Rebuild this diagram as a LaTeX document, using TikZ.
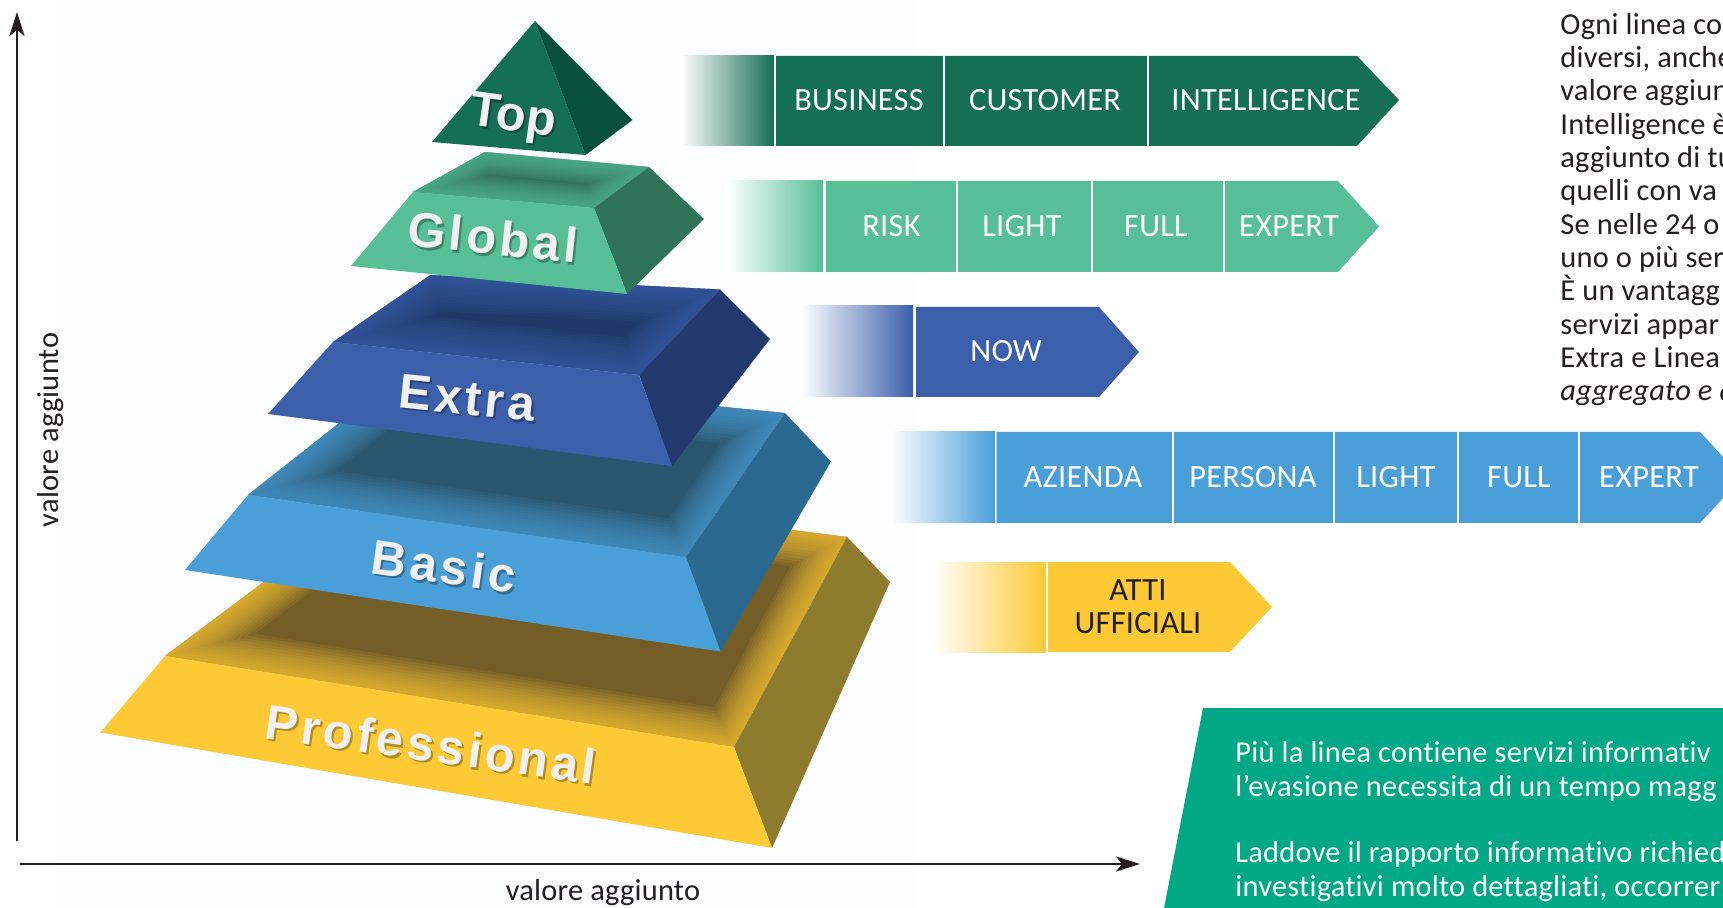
\documentclass[tikz,border=0pt]{standalone}
\usepackage{fontspec}
\setmainfont[Ligatures=NoCommon,LetterSpace=0.8]{Carlito}
\newfontfamily\labfont[LetterSpace=7.2]{Liberation Sans}
\newfontfamily\labtopfont{Liberation Sans}
\usetikzlibrary{arrows.meta}
\definecolor{ink}{HTML}{231F20}
\definecolor{pagetint}{HTML}{FCFDFE}
\definecolor{topf}{HTML}{156F52}\definecolor{topr}{HTML}{07503A}
\definecolor{glof}{HTML}{57BF98}\definecolor{glor}{HTML}{30735B}\definecolor{glot}{HTML}{2F6B55}
\definecolor{extf}{HTML}{3C5FAB}\definecolor{extr}{HTML}{223A6E}\definecolor{extt}{HTML}{1F3A68}
\definecolor{basf}{HTML}{4B9FD8}\definecolor{basr}{HTML}{2A6A90}\definecolor{bast}{HTML}{2A566F}
\definecolor{prof}{HTML}{FDC935}\definecolor{pror}{HTML}{8D7B2E}\definecolor{prot}{HTML}{745E27}
\definecolor{callout}{HTML}{00A885}
\tikzset{
  bodytext/.style={font=\fontsize{15.2}{16.6}\selectfont,text=ink,anchor=base west,inner sep=0pt},
  boxtext/.style={font=\fontsize{16.2}{16.6}\selectfont,text=white,inner sep=0pt,anchor=center},
  calltext/.style={font=\fontsize{15.2}{16.6}\selectfont,text=white,anchor=base west,inner sep=0pt},
  axislabel/.style={font=\fontsize{15.2}{16.6}\selectfont,text=ink,inner sep=0pt},
  axisline/.style={draw=ink,line width=1.3pt,-{Stealth[length=12pt,width=7.5pt,inset=3pt]}},
  sep/.style={draw=white,line width=1pt},
}
\newcommand{\levellabel}[5]{% name, x, y, angle, font
  \node[rotate=#4,font=#5,text=black,opacity=.3,inner sep=0pt] at (#2+2,#3+2.5) {\labelword};
  \node[rotate=#4,font=#5,text=white!94!black,inner sep=0pt] (#1) at (#2,#3) {\labelword};
}
\newcommand{\softface}[7]{% dark, front, ul, back, rb, ur, widths
  \begin{scope}
    \clip #3 -- #4 -- #5 -- #6 -- cycle;
    \fill[#1] #3 -- #4 -- #5 -- #6 -- cycle;
    \foreach \w in {#7}{
      \draw[#2,opacity=.1,line width=\w pt,line join=round] #3 -- #4 -- #5 -- #6 -- cycle;
    }
  \end{scope}
}
\begin{document}
\begin{tikzpicture}[x=0.5pt,y=-0.5pt]
\useasboundingbox (0,0) rectangle (1723,908);
\begin{scope}
\clip (0,0) rectangle (1723,908);
\fill[white] (0,0) rectangle (1723,908);
\fill[pagetint] (62,0) rectangle (915,908);

% Professional
\softface{prot}{prof}{(165,656)}{(400,480)}{(847,537)}{(734,747)}{3,6,...,36}
\fill[pror] (734,747) -- (847,537) -- (890,582) -- (772,848) -- cycle;
\fill[prof] (100.5,732.5) -- (165,656) -- (734,747) -- (772,848) -- cycle;
% Basic
\softface{bast}{basf}{(248,495)}{(400,375)}{(785,413)}{(686,557)}{3,6,...,36}
\fill[basr] (686,557) -- (785,413) -- (831,461.5) -- (720.5,651.5) -- cycle;
\fill[basf] (185,570) -- (248,495) -- (686,557) -- (720.5,651.5) -- cycle;
% Extra
\softface{extt}{extf}{(333,342)}{(430.5,275)}{(720,289.5)}{(639,375)}{3,6,...,36}
\fill[extr] (639,375) -- (720,289.5) -- (770,339) -- (672,466) -- cycle;
\fill[extf] (268,414) -- (333,342) -- (639,375) -- (672,466) -- cycle;
% Global
\softface{glot}{glof}{(413,192)}{(485,152)}{(649,167)}{(594,208)}{2,4,...,24}
\fill[glor] (594,208) -- (649,167) -- (704,219) -- (627,294) -- cycle;
\fill[glof] (351,266) -- (413,192) -- (594,208) -- (627,294) -- cycle;
% Top
\fill[topf] (535,21) -- (432,142) -- (585.5,155) -- cycle;
\fill[topr] (535,21) -- (585.5,155) -- (632.5,120) -- cycle;

% Pyramid labels
\def\labelword{Top}\levellabel{lTop}{513}{119}{-8}{\labtopfont\bfseries\fontsize{24.5}{24.5}\selectfont}
\def\labelword{Global}\levellabel{lGlobal}{493}{237}{-6}{\labfont\bfseries\fontsize{24.5}{24.5}\selectfont}
\def\labelword{Extra}\levellabel{lExtra}{467}{398}{-6}{\labfont\bfseries\fontsize{24.5}{24.5}\selectfont}
\def\labelword{Basic}\levellabel{lBasic}{444}{566}{-8}{\labfont\bfseries\fontsize{24.5}{24.5}\selectfont}
\def\labelword{Professional}\levellabel{lPro}{431}{744}{-8}{\labfont\bfseries\fontsize{24.5}{24.5}\selectfont}

% Row 1
\shade[left color=white,middle color=topf!40!white!80!gray,right color=topf] (681,56) rectangle (774,146);
\fill[topf] (776,56) -- (1357,56) -- (1399,100) -- (1357,146) -- (776,146) -- cycle;
\draw[sep] (943.5,56) -- (943.5,146) (1148,56) -- (1148,146);
\node[boxtext] (b1) at (859,100) {BUSINESS};
\node[boxtext] (b2) at (1045,100) {CUSTOMER};
\node[boxtext] (b3) at (1266,100) {INTELLIGENCE};
% Row 2
\shade[left color=white,right color=glof] (726,181) rectangle (823,272);
\fill[glof] (826,181) -- (1338,181) -- (1379,226.5) -- (1338,272) -- (826,272) -- cycle;
\draw[sep] (957,181) -- (957,272) (1091.5,181) -- (1091.5,272) (1224,181) -- (1224,272);
\node[boxtext] (g1) at (891.5,226) {RISK};
\node[boxtext] (g2) at (1022,226) {LIGHT};
\node[boxtext] (g3) at (1156,226) {FULL};
\node[boxtext] (g4) at (1289,226) {EXPERT};
% Row 3
\shade[left color=white,right color=extf] (800,306) rectangle (913,397);
\fill[extf] (916,307) -- (1099,307) -- (1139,352) -- (1099,397) -- (916,397) -- cycle;
\node[boxtext] (e1) at (1006,351) {NOW};
% Row 4
\shade[left color=white,right color=basf] (890,432) rectangle (995,523);
\fill[basf] (996.5,432) -- (1700,432) -- (1742,477.5) -- (1700,523) -- (996.5,523) -- cycle;
\draw[sep] (1173,432) -- (1173,523) (1334,432) -- (1334,523) (1458,432) -- (1458,523) (1579,432) -- (1579,523);
\node[boxtext] (n1) at (1083,477) {AZIENDA};
\node[boxtext] (n2) at (1253,477) {PERSONA};
\node[boxtext] (n3) at (1396,477) {LIGHT};
\node[boxtext] (n4) at (1519,477) {FULL};
\node[boxtext] (n5) at (1649,477) {EXPERT};
% Row 5
\shade[left color=white,right color=prof] (931.5,562) rectangle (1045.5,652);
\fill[prof] (1048,562) -- (1230,562) -- (1272,607) -- (1230,652) -- (1048,652) -- cycle;
\node[boxtext,text=ink,align=center] (p1) at (1138,607) {ATTI\\UFFICIALI};

% Axes
\coordinate (ybase) at (17,841);
\coordinate (ytip) at (17,12);
\coordinate (xbase) at (20,864);
\coordinate (xtip) at (1140,864);
\draw[axisline] (ybase) -- (ytip);
\draw[axisline] (xbase) -- (xtip);
\node[axislabel] (xl) at (603,893) {valore aggiunto};
\node[axislabel,rotate=90] (yl) at (51,430) {valore aggiunto};

% Right text
\node[bodytext] (t1) at (1560,35) {Ogni linea co};
\node[bodytext] (t2) at (1560,68) {diversi, anche};
\node[bodytext] (t3) at (1560,101) {valore aggiun};
\node[bodytext] (t4) at (1560,135) {Intelligence è};
\node[bodytext] (t5) at (1560,168) {aggiunto di tu};
\node[bodytext] (t6) at (1560,201) {quelli con va};
\node[bodytext] (t7) at (1560,235) {Se nelle 24 o};
\node[bodytext] (t8) at (1560,268) {uno o più ser};
\node[bodytext] (t9) at (1560,301) {È un vantagg};
\node[bodytext] (t10) at (1560,335) {servizi appar};
\node[bodytext] (t11) at (1560,368) {Extra e Linea};
\node[bodytext,font=\fontsize{15.2}{16.6}\selectfont\itshape] (t12) at (1560,401) {aggregato e a};

% Callout
\fill[callout] (1203,708) -- (1723,708) -- (1723,908) -- (1164,908) -- cycle;
\node[calltext] (c1) at (1235,762) {Più la linea contiene servizi informativ};
\node[calltext] (c2) at (1235,796) {l’evasione necessita di un tempo magg};
\node[calltext] (c3) at (1235,862) {Laddove il rapporto informativo richied};
\node[calltext] (c4) at (1235,896) {investigativi molto dettagliati, occorrer};
\end{scope}
\end{tikzpicture}
\end{document}
